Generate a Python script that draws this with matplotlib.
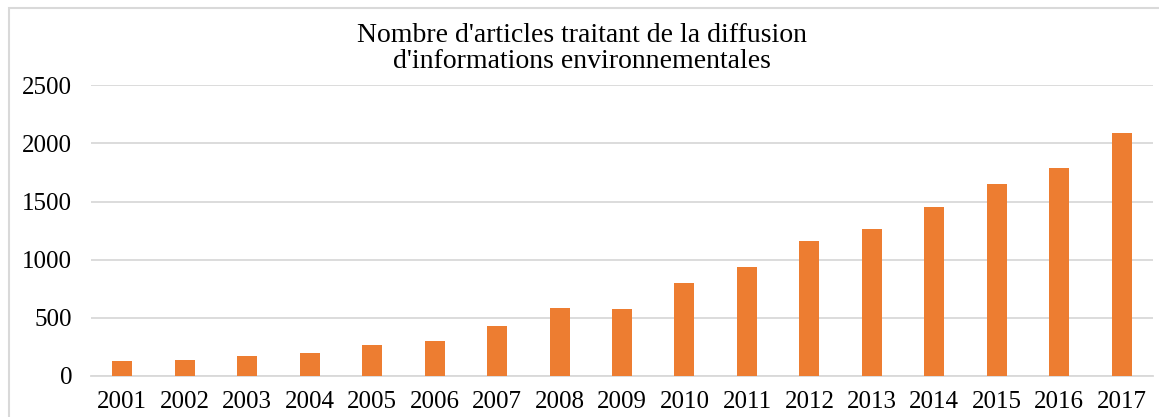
import matplotlib.pyplot as plt
from matplotlib.patches import Rectangle

years = ["2001", "2002", "2003", "2004", "2005", "2006", "2007", "2008", "2009",
         "2010", "2011", "2012", "2013", "2014", "2015", "2016", "2017"]
articles = [129, 135, 169, 195, 264, 301, 427, 582, 576,
            797, 935, 1164, 1261, 1457, 1654, 1786, 2090]
y_ticks = [0, 500, 1000, 1500, 2000, 2500]

TITLE = "Nombre d'articles traitant de la diffusion\nd'informations environnementales"

plt.rcParams["font.family"] = ["Liberation Serif", "DejaVu Serif"]

W, H = 1159, 417
fig = plt.figure(figsize=(W / 100, H / 100), dpi=100)

# chart border (light grey frame, cut at right/bottom)
fig.patches.append(Rectangle((9 / W, -0.05), 1.2, (H - 8) / H + 0.05,
                             transform=fig.transFigure, fill=False,
                             edgecolor="#d9d9d9", linewidth=1.5))

left, right = 91 / W, 1153 / W
bottom, top = (H - 376) / H, (H - 85.3) / H
ax = fig.add_axes([left, bottom, right - left, top - bottom])

x = list(range(len(years)))
ax.bar(x, articles, width=0.32, color="#ED7D31", zorder=3)

ax.set_xlim(-0.5, len(years) - 0.5)
ax.set_ylim(0, 2500)
ax.set_yticks(y_ticks)
ax.set_yticklabels([str(v) for v in y_ticks])
ax.set_xticks(x)
ax.set_xticklabels(years)

ax.grid(axis="y", color="#d9d9d9", linewidth=1.3, zorder=0)
for side in ["top", "right", "left"]:
    ax.spines[side].set_visible(False)
ax.spines["bottom"].set_color("#d9d9d9")
ax.spines["bottom"].set_linewidth(1.3)
ax.tick_params(axis="both", length=0, labelsize=18, colors="black")
ax.tick_params(axis="y", pad=13.5)
ax.tick_params(axis="x", pad=10.5)

fig.text(0.5022, (H - 48.5) / H, TITLE, ha="center", va="center",
         fontsize=20, linespacing=1.05)

fig.savefig("out.png", dpi=100)
